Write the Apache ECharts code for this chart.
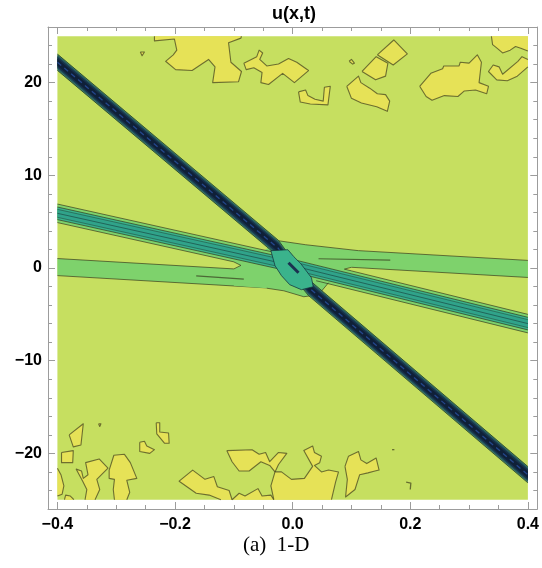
<!DOCTYPE html>
<html><head><meta charset="utf-8">
<script src="https://cdn.jsdelivr.net/npm/echarts@6/dist/echarts.min.js"></script>
<style>html,body{margin:0;padding:0;background:#fff}#c{width:542px;height:568px}</style>
</head><body><div id="c"></div>
<script>
// ---- axis ticks ----
const xMajor = [-0.4, -0.2, 0, 0.2, 0.4];
const xMinor = [-0.35, -0.3, -0.25, -0.15, -0.1, -0.05, 0.05, 0.1, 0.15, 0.25, 0.3, 0.35];
const yMajor = [-20, -10, 0, 10, 20];
const yMinor = [-24, -22, -18, -16, -14, -12, -8, -6, -4, -2, 2, 4, 6, 8, 12, 14, 16, 18, 22, 24];
const domain = [[-0.4, -25], [0.4, -25], [0.4, 25], [-0.4, 25]];

// ---- yellow level regions (x, t) ----
const blobsTop = [
  [[-0.235,25],[-0.235,24.5],[-0.201,24.7],[-0.197,23.5],[-0.203,23.0],[-0.216,22.3],[-0.199,21.4],[-0.171,21.3],[-0.143,22.5],[-0.132,21.7],[-0.136,20.0],[-0.092,20.1],[-0.087,21.2],[-0.105,22.2],[-0.109,24.3],[-0.088,24.8],[-0.087,25]],
  [[-0.259,23.3],[-0.252,23.3],[-0.256,22.9]],
  [[-0.083,22.1],[-0.061,22.8],[-0.057,23.5],[-0.051,23.2],[-0.056,22.5],[-0.044,21.8],[-0.024,22.0],[-0.007,22.6],[0.007,22.2],[0.027,21.3],[0.003,20.0],[-0.017,21.0],[-0.041,19.8],[-0.054,20.0],[-0.052,21.1],[-0.066,21.6],[-0.079,21.4]],
  [[0.010,19.0],[0.022,19.2],[0.026,18.6],[0.038,18.2],[0.052,18.0],[0.054,19.5],[0.064,19.6],[0.060,17.6],[0.030,17.7],[0.013,17.9]],
  [[0.096,22.3],[0.100,22.5],[0.105,22.1],[0.102,22.0]],
  [[0.092,19.6],[0.112,20.7],[0.116,20.0],[0.131,19.4],[0.144,18.8],[0.158,18.7],[0.165,18.0],[0.161,16.9],[0.143,17.4],[0.117,17.8],[0.100,18.3]],
  [[0.144,23.0],[0.172,24.6],[0.195,23.1],[0.171,21.9]],
  [[0.118,21.2],[0.142,22.8],[0.162,22.1],[0.158,20.7],[0.141,20.3]],
  [[0.216,19.6],[0.235,21.0],[0.255,21.5],[0.257,21.8],[0.283,21.8],[0.285,22.2],[0.300,22.1],[0.314,23.0],[0.321,22.2],[0.317,20.0],[0.333,19.6],[0.330,18.8],[0.311,19.2],[0.292,19.1],[0.281,18.5],[0.258,18.6],[0.237,18.1],[0.227,18.5]],
  [[0.338,25],[0.340,24.1],[0.348,23.7],[0.357,23.2],[0.370,23.5],[0.379,23.9],[0.388,23.7],[0.4,23.4],[0.4,25]],
  [[0.333,21.2],[0.341,21.9],[0.351,21.7],[0.357,20.9],[0.383,22.3],[0.390,22.8],[0.4,22.5],[0.4,21.7],[0.382,20.7],[0.365,20.2],[0.347,20.3]]
];
const blobsBottom = [
  [[-0.380,-18.0],[-0.356,-16.8],[-0.360,-19.1],[-0.373,-19.3]],
  [[-0.393,-19.9],[-0.373,-19.7],[-0.374,-21.0],[-0.393,-21.0]],
  [[-0.232,-16.7],[-0.226,-16.7],[-0.226,-17.7],[-0.211,-17.8],[-0.210,-18.9],[-0.218,-18.9],[-0.231,-17.9]],
  [[-0.260,-18.8],[-0.252,-18.7],[-0.248,-19.2],[-0.235,-19.6],[-0.243,-20.0],[-0.260,-19.8]],
  [[-0.4,-21.6],[-0.394,-22.3],[-0.389,-23.5],[-0.392,-24.4],[-0.4,-24.6]],
  [[-0.388,-25],[-0.386,-24.5],[-0.378,-24.6],[-0.372,-25]],
  [[-0.330,-16.8],[-0.326,-16.8],[-0.328,-17.1]],
  [[-0.368,-21.7],[-0.359,-21.9],[-0.356,-22.7],[-0.348,-22.3],[-0.352,-21.0],[-0.329,-20.6],[-0.314,-21.6],[-0.325,-22.3],[-0.333,-22.8],[-0.328,-23.9],[-0.336,-25],[-0.353,-25],[-0.350,-23.9],[-0.357,-23.0]],
  [[-0.312,-21.8],[-0.304,-20.2],[-0.286,-20.1],[-0.276,-21.0],[-0.265,-22.7],[-0.282,-22.9],[-0.277,-24.2],[-0.282,-25],[-0.303,-25],[-0.305,-23.9],[-0.303,-22.8],[-0.312,-22.7]],
  [[-0.193,-23.0],[-0.170,-21.8],[-0.149,-22.8],[-0.134,-22.5],[-0.128,-23.6],[-0.108,-24.0],[-0.103,-25],[-0.122,-25],[-0.142,-24.5],[-0.164,-24.3]],
  [[-0.103,-25],[-0.091,-24.3],[-0.081,-24.6],[-0.059,-23.8],[-0.052,-24.6],[-0.037,-24.5],[-0.032,-25]],
  [[-0.112,-19.7],[-0.069,-19.6],[-0.057,-20.1],[-0.046,-19.9],[-0.039,-20.9],[-0.024,-19.9],[-0.010,-20.0],[-0.024,-21.2],[-0.030,-22.0],[-0.039,-21.3],[-0.054,-20.9],[-0.074,-21.9],[-0.091,-21.9],[-0.103,-20.9]],
  [[-0.030,-22.0],[-0.019,-22.0],[-0.002,-22.8],[0.020,-22.7],[0.034,-21.4],[0.019,-19.7],[0.034,-19.2],[0.037,-19.9],[0.049,-20.3],[0.046,-21.0],[0.037,-21.3],[0.049,-22.0],[0.061,-21.8],[0.078,-22.0],[0.073,-23.1],[0.066,-25],[-0.032,-25],[-0.037,-23.5]],
  [[0.089,-21.4],[0.095,-20.3],[0.112,-19.8],[0.116,-20.7],[0.126,-21.1],[0.142,-20.5],[0.147,-21.8],[0.140,-21.9],[0.128,-22.1],[0.114,-22.3],[0.106,-23.9],[0.090,-24.7],[0.093,-22.8]]
];
const marks = [
  [[0.193,-23.1],[0.201,-23.2],[0.200,-23.9]],
  [[0.169,-19.6],[0.173,-19.6]],
  [[-0.262,-0.47],[-0.252,-0.5]],
  [[0.255,0.43],[0.262,0.43]],
  [[-0.372,-0.02],[-0.370,-0.02]]
];

// ---- wave crests: centre lines (x, t) and half widths in t ----
const steepCenter = [[-0.4, 22.2], [-0.024, 2.1], [0.002, -0.18], [0.027, -2.1], [0.4, -22.3]];
const steepHalf = [0.88, 0.74, 0.58, 0.38];
const midBand = [[-0.4, 5.9], [0, 0.25], [0.4, -6.0]];
const midHalf = [1.0, 0.68, 0.43];
const flatLeft = [[-0.4, 0.1], [-0.03, -1.28]];
const flatRight = [[0.02, 1.29], [0.4, -0.1]];
const flatHalf = 0.92;
const flatLeftEdgeEnds = [-0.1, -0.044];
const flatRightEdgeStarts = [0.112, 0.100];
const crossMerge = [[-0.088,0.28],[-0.100,0.66],[-0.049,1.85],[-0.024,2.94],[0.022,2.51],[0.112,1.87],[0.100,0.076],[0.088,-0.12],[0.100,-0.31],[0.061,-1.59],[0.044,-2.88],[0.019,-3.10],[-0.015,-2.46],[-0.044,-2.18],[-0.100,-1.91],[-0.100,-0.1]];
const mergeEdges = [
  [[-0.024,2.94],[0.022,2.51],[0.112,1.87]],
  [[0.061,-1.59],[0.044,-2.88],[0.019,-3.10],[-0.015,-2.46],[-0.044,-2.18]],
  [[-0.100,-0.1],[-0.088,0.28],[-0.100,0.66]],
  [[0.100,0.076],[0.088,-0.12],[0.100,-0.31]]
];
const crossTeal = [[-0.037,1.87],[-0.008,1.97],[0.002,1.22],[0.014,0.46],[0.032,-1.05],[0.035,-2.02],[0.015,-2.34],[-0.005,-1.80],[-0.019,-0.83],[-0.030,0.25]];
const crossDash = [[-0.007,0.57],[0.010,-0.51]];
const innerLines = [
  [[-0.164,-0.85],[-0.083,-1.2]],
  [[0.044,1.0],[0.166,0.84]]
];

// ---- styles ----
const COL = {
  bg: '#c6df60', yellow: '#e6e257', light: '#7ed26c', teal: '#3ab38c', teal2: '#30a38a',
  line: 'rgba(45,40,20,0.62)',
  s0: '#3f7f68', s1: '#22535e', s2: '#17314a', s3: '#0f2038', dash: '#24478c', navy: '#1b3050'
};

const shapes = [];
function onEdgeSame(p, q) {
  const e = 1e-9;
  if (Math.abs(p[0]) >= 0.4 - e && Math.abs(q[0]) >= 0.4 - e && p[0] * q[0] > 0) return true;
  if (Math.abs(p[1]) >= 25 - e && Math.abs(q[1]) >= 25 - e && p[1] * q[1] > 0) return true;
  return false;
}
function strokeRuns(pts) {
  const n = pts.length, runs = [];
  let start = -1;
  for (let i = 0; i < n; i++) if (onEdgeSame(pts[i], pts[(i + 1) % n])) { start = (i + 1) % n; break; }
  if (start < 0) return [pts.concat([pts[0]])];
  let cur = [pts[start]];
  for (let k = 0; k < n; k++) {
    const i = (start + k) % n, j = (i + 1) % n;
    if (onEdgeSame(pts[i], pts[j])) { if (cur.length > 1) runs.push(cur); cur = [pts[j]]; }
    else cur.push(pts[j]);
  }
  if (cur.length > 1) runs.push(cur);
  return runs;
}
function clipX(c, x0, x1) {
  const at = x => {
    for (let i = 0; i < c.length - 1; i++) {
      const a = c[i], b = c[i + 1];
      if (x >= a[0] && x <= b[0]) { const f = (x - a[0]) / (b[0] - a[0]); return [x, a[1] + f * (b[1] - a[1])]; }
    }
    return null;
  };
  const out = [at(x0)];
  c.forEach(p => { if (p[0] > x0 && p[0] < x1) out.push(p); });
  out.push(at(x1));
  return out;
}
function addFill(pts, fill) { shapes.push({pts, fill}); }
function addLine(pts, stroke, lw, dash) { shapes.push({pts, stroke, lw: lw || 1, dash}); }
function addBlob(pts) {
  addFill(pts, COL.yellow);
  strokeRuns(pts).forEach(r => addLine(r, COL.line, 1.1));
}
function shift(c, h) { return c.map(p => [p[0], p[1] + h]); }
function band(c, h) { return shift(c, h).concat(shift(c, -h).reverse()); }

addFill(domain, COL.bg);
blobsTop.forEach(addBlob);
blobsBottom.forEach(addBlob);
marks.forEach(m => addLine(m, COL.line, 1.3));

addFill(band(flatLeft, flatHalf), COL.light);
addFill(band(flatRight, flatHalf), COL.light);
addLine(clipX(shift(flatLeft, flatHalf), -0.4, flatLeftEdgeEnds[0]), COL.line);
addLine(clipX(shift(flatLeft, -flatHalf), -0.4, flatLeftEdgeEnds[1]), COL.line);
addLine(clipX(shift(flatRight, flatHalf), flatRightEdgeStarts[0], 0.4), COL.line);
addLine(clipX(shift(flatRight, -flatHalf), flatRightEdgeStarts[1], 0.4), COL.line);
addFill(band(midBand, midHalf[0]), COL.light);
addFill(crossMerge, COL.light);
addLine(clipX(shift(midBand, midHalf[0]), -0.4, -0.035), COL.line);
addLine(clipX(shift(midBand, -midHalf[0]), -0.4, -0.1), COL.line);
addLine(clipX(shift(midBand, midHalf[0]), 0.1, 0.4), COL.line);
addLine(clipX(shift(midBand, -midHalf[0]), 0.04, 0.4), COL.line);
mergeEdges.forEach(e => addLine(e, COL.line));
addFill(band(midBand, midHalf[1]), COL.teal);
addLine(shift(midBand, midHalf[1]), COL.line); addLine(shift(midBand, -midHalf[1]), COL.line);
addFill(band(midBand, midHalf[2]), COL.teal2);
addLine(shift(midBand, midHalf[2]), 'rgba(30,60,50,0.5)'); addLine(shift(midBand, -midHalf[2]), 'rgba(30,60,50,0.5)');
addLine(midBand, 'rgba(20,50,50,0.55)', 1);
innerLines.forEach(l => addLine(l, COL.line, 1.2));

const steepCols = [COL.s0, COL.s1, COL.s2, COL.s3];
steepHalf.forEach((h, i) => addFill(band(steepCenter, h), steepCols[i]));
addLine(shift(steepCenter, steepHalf[0]), 'rgba(35,55,35,0.75)');
addLine(shift(steepCenter, -steepHalf[0]), 'rgba(35,55,35,0.75)');
addLine(steepCenter, COL.dash, 1.3, [5, 4]);
addFill(crossTeal, COL.teal);
strokeRuns(crossTeal).forEach(r => addLine(r, 'rgba(20,50,60,0.75)', 1));
addLine(crossDash, COL.navy, 3);

function renderItem(params, api) {
  const s = shapes[params.dataIndex];
  const pts = s.pts.map(p => api.coord(p));
  if (s.fill) return {type: 'polygon', shape: {points: pts}, style: {fill: s.fill, stroke: null}};
  return {type: 'polyline', shape: {points: pts}, style: {fill: null, stroke: s.stroke, lineWidth: s.lw, lineDash: s.dash || null, lineJoin: 'round'}};
}

const AX = '#9c9c9c';
const fmtX = v => (v < 0 ? '\u2212' : '') + Math.abs(v).toFixed(1);
const fmtY = v => (v < 0 ? '\u2212' : '') + Math.abs(v);
const lblStyle = {fontFamily: 'Liberation Sans', fontWeight: 'bold', fontSize: 16, color: '#000'};
function xAx(pos, ticks, len, labels, line) {
  return {type: 'value', min: -0.416, max: 0.416, position: pos,
    axisLine: {show: line, onZero: false, lineStyle: {color: AX, width: 1}},
    axisTick: {show: true, inside: true, length: len, customValues: ticks, lineStyle: {color: AX}},
    axisLabel: labels ? Object.assign({show: true, customValues: ticks, formatter: fmtX, margin: 8}, lblStyle) : {show: false},
    splitLine: {show: false}};
}
function yAx(pos, ticks, len, labels, line) {
  return {type: 'value', min: -26, max: 26, position: pos,
    axisLine: {show: line, onZero: false, lineStyle: {color: AX, width: 1}},
    axisTick: {show: true, inside: true, length: len, customValues: ticks, lineStyle: {color: AX}},
    axisLabel: labels ? Object.assign({show: true, customValues: ticks, formatter: fmtY, margin: 6}, lblStyle) : {show: false},
    splitLine: {show: false}};
}

const chart = echarts.init(document.getElementById('c'), null, {renderer: 'canvas'});
chart.setOption({
  animation: false,
  backgroundColor: '#fff',
  grid: {left: 48, right: 2, top: 27, bottom: 59, containLabel: false},
  xAxis: [xAx('bottom', xMajor, 7, true, true), xAx('bottom', xMinor, 4, false, false), xAx('top', xMajor, 7, false, true), xAx('top', xMinor, 4, false, false)],
  yAxis: [yAx('left', yMajor, 7, true, true), yAx('left', yMinor, 4, false, false), yAx('right', yMajor, 7, false, true), yAx('right', yMinor, 4, false, false)],
  graphic: [
    {type: 'text', x: 294, y: 14, style: {text: 'u(x,t)', fontFamily: 'Liberation Sans', fontWeight: 'bold', fontSize: 18, fill: '#000', align: 'center', verticalAlign: 'middle'}},
    {type: 'text', left: 243, top: 535, style: {text: '(a)  1-D', fontFamily: 'Liberation Serif', fontSize: 21, fill: '#000'}}
  ],
  series: [{
    type: 'custom', coordinateSystem: 'cartesian2d', xAxisIndex: 0, yAxisIndex: 0,
    clip: true, silent: true, renderItem,
    data: shapes.map((s, i) => [0, 0, i])
  }]
});
</script></body></html>
